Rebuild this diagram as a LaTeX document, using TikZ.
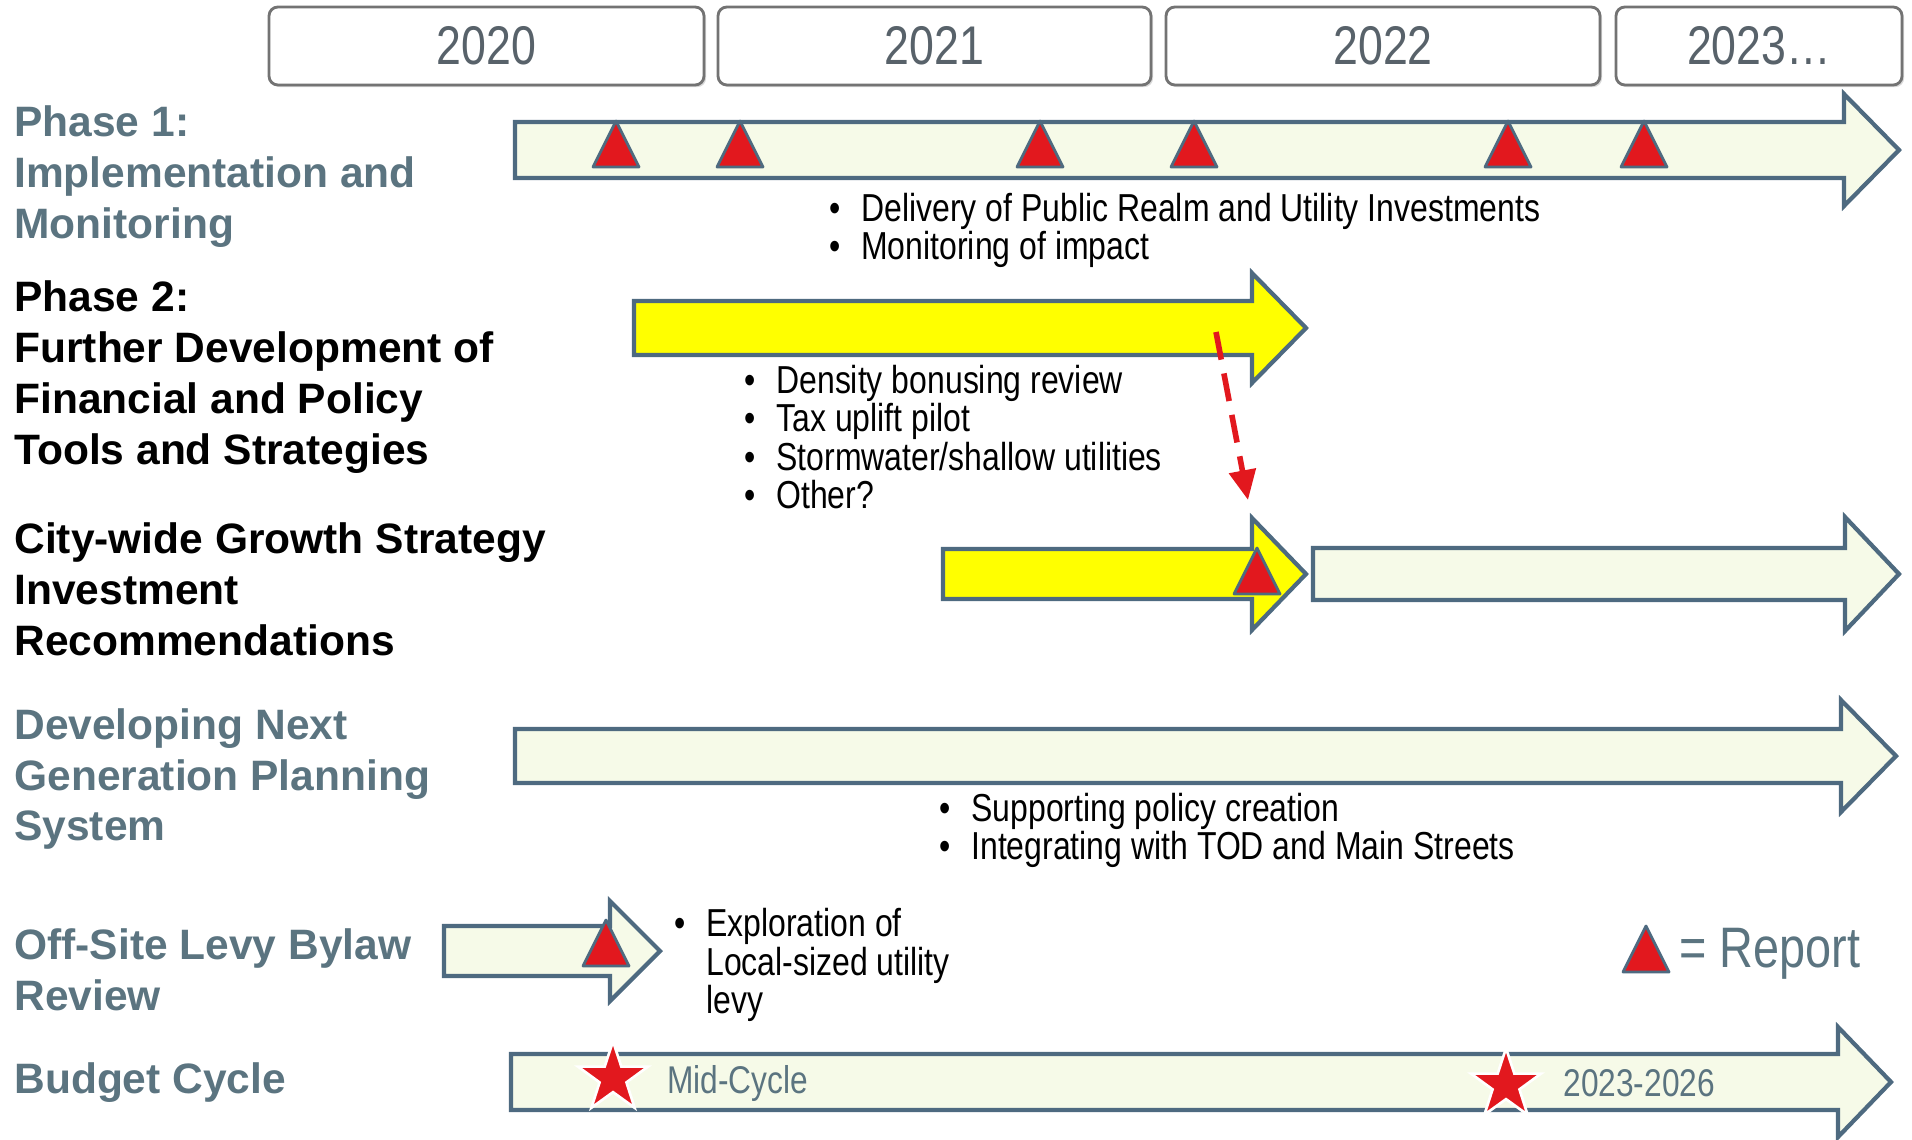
\documentclass[tikz,border=0pt]{standalone}
\usepackage{fontspec}
\setmainfont{Liberation Sans}
\newfontfamily\narrowfont{Liberation Sans}[FakeStretch=0.82]
\usepackage{tikz}
\usetikzlibrary{shapes.geometric,arrows.meta,shadows}
\definecolor{labelgray}{RGB}{91,116,128}
\definecolor{arrowedge}{RGB}{78,106,128}
\definecolor{palefill}{RGB}{246,250,232}
\definecolor{phaseyellow}{RGB}{255,255,0}
\definecolor{reportred}{RGB}{226,24,30}
\definecolor{yeargray}{RGB}{88,98,106}

\newcommand{\blt}{\makebox[0.64cm][l]{\textbullet}}
% block arrow: [style] left end, head base, tip, centre y, half shaft, half head
\newcommand{\blockarrow}[7][]{%
  \draw[barrow,#1] (#2,#5-#6) -- (#3,#5-#6) -- (#3,#5-#7) -- (#4,#5)
    -- (#3,#5+#7) -- (#3,#5+#6) -- (#2,#5+#6) -- cycle;}
% report marker: centre x, base y
\newcommand{\report}[2]{%
  \draw[rep] (#1-23,#2) -- (#1,#2-46) -- (#1+23,#2) -- cycle;}

\begin{document}
\begin{tikzpicture}[
  x=0.02cm, y=-0.02cm,
  yearbox/.style={draw=gray!90!black, line width=1.6pt, rounded corners=5pt,
    fill=white, minimum height=1.56cm, inner sep=0, text=yeargray,
    font=\narrowfont\fontsize{31}{36}\selectfont,
    drop shadow={shadow xshift=1.2pt, shadow yshift=-1.2pt, opacity=0.3}},
  lbl/.style={anchor=west, align=left, inner sep=0, text=labelgray,
    font=\fontsize{24.2}{29}\selectfont\bfseries},
  lbldark/.style={lbl, text=black},
  bullets/.style={anchor=west, align=left, inner sep=0,
    font=\narrowfont\fontsize{22.2}{21.7}\selectfont},
  barrow/.style={draw=arrowedge, line width=2.4pt, fill=palefill},
  ybarrow/.style={fill=phaseyellow},
  rep/.style={draw=arrowedge, line width=1.6pt, fill=reportred, line join=round},
  cyclestar/.style={star, star points=5, star point ratio=2.6, fill=reportred,
    draw=white, line width=1.5pt, minimum size=1.47cm, inner sep=0},
  cycletext/.style={anchor=west, inner sep=0, text=labelgray,
    font=\narrowfont\fontsize{22}{26}\selectfont},
  droparrow/.style={reportred, line width=3.2pt, dash pattern=on 16pt off 8pt,
    -{Triangle[length=17pt,width=15pt]}}
]
\useasboundingbox (0,0) rectangle (1912,1139);

\node[yearbox, minimum width=8.7cm]  (Y20) at (486.5,46) {2020};
\node[yearbox, minimum width=8.66cm] (Y21) at (934.5,46) {2021};
\node[yearbox, minimum width=8.68cm] (Y22) at (1383,46) {2022};
\node[yearbox, minimum width=5.72cm] (Y23) at (1759,46) {2023…};

\node[lbl] (P1lbl) at (14,177) {Phase 1:\\Implementation and\\Monitoring};
\node[lbldark] (P2lbl) at (14,377) {Phase 2:\\Further Development of\\Financial and Policy\\Tools and Strategies};
\node[lbldark] (CWlbl) at (14,589) {City-wide Growth Strategy\\Investment\\Recommendations};
\node[lbl] (NGlbl) at (14,779) {Developing Next\\Generation Planning\\System};
\node[lbl] (OSlbl) at (14,970) {Off-Site Levy Bylaw\\Review};
\node[lbl] (BClbl) at (14,1083) {Budget Cycle};

% timeline arrows
\blockarrow{515}{1844}{1899}{150}{28}{56}
\blockarrow[ybarrow]{634}{1252}{1306}{328}{27}{55}
\blockarrow[ybarrow]{943}{1252}{1306}{574}{25}{56}
\blockarrow{1313}{1845}{1899}{574}{26}{57}
\blockarrow{515}{1841}{1896}{756}{27}{56}
\blockarrow{444}{610}{660}{951}{25}{50}
\blockarrow{511}{1838}{1891}{1082}{28}{55}

\foreach \rx in {616,740,1040,1194,1508,1644}
  \report{\rx}{167};
\report{1257}{594}
\report{606}{966}
\report{1646}{972}

\coordinate (dropstart) at (1216,332);
\coordinate (droptip) at (1248,500);
\draw[droparrow] (dropstart) -- (droptip);

\node[bullets] (P1txt) at (829,230) {\blt Delivery of Public Realm and Utility Investments\\\blt Monitoring of impact};
\node[bullets] (P2txt) at (744,437) {\blt Density bonusing review\\\blt Tax uplift pilot\\\blt Stormwater/shallow utilities\\\blt Other?};
\node[bullets] (NGtxt) at (939,830) {\blt Supporting policy creation\\\blt Integrating with TOD and Main Streets};
\node[bullets] (OStxt) at (674,965) {\blt Exploration of\\\hspace*{0.64cm}Local-sized utility\\\hspace*{0.64cm}levy};

\node[anchor=west, inner sep=0, text=labelgray, font=\narrowfont\fontsize{32.5}{38}\selectfont]
  (legend) at (1679,954) {= Report};

\node[cyclestar] (S1) at (613,1078) {};
\node[cyclestar] (S2) at (1506,1085) {};
\node[cycletext] (midcyc) at (667,1083) {Mid-Cycle};
\node[cycletext] (nextcyc) at (1563,1083) {2023-2026};

\end{tikzpicture}
\end{document}
